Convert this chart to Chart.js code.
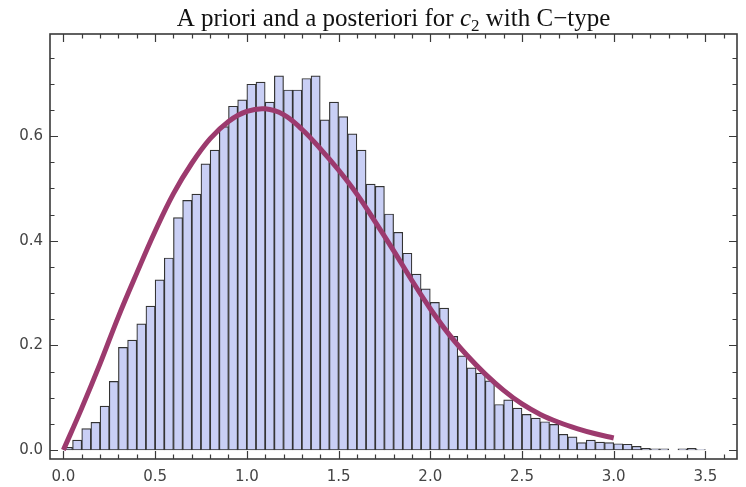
<!DOCTYPE html>
<html>
<head>
<meta charset="utf-8">
<script src="https://cdn.jsdelivr.net/npm/chart.js@4.4.1/dist/chart.umd.min.js"></script>
<style>
  body { margin: 0; background: #fff; }
</style>
</head>
<body>
<canvas id="myChart" width="746" height="487"></canvas>
<script>
// histogram bins (left edge) and heights
const binStart = [
  0.00, 0.05, 0.10, 0.15, 0.20, 0.25, 0.30, 0.35, 0.40, 0.45,
  0.50, 0.55, 0.60, 0.65, 0.70, 0.75, 0.80, 0.85, 0.90, 0.95,
  1.00, 1.05, 1.10, 1.15, 1.20, 1.25, 1.30, 1.35, 1.40, 1.45,
  1.50, 1.55, 1.60, 1.65, 1.70, 1.75, 1.80, 1.85, 1.90, 1.95,
  2.00, 2.05, 2.10, 2.15, 2.20, 2.25, 2.30, 2.35, 2.40, 2.45,
  2.50, 2.55, 2.60, 2.65, 2.70, 2.75, 2.80, 2.85, 2.90, 2.95,
  3.00, 3.05, 3.10, 3.15, 3.20, 3.25, 3.30, 3.35, 3.40, 3.45
];
const binHeight = [
  0.005, 0.019, 0.041, 0.053, 0.084, 0.131, 0.196, 0.210, 0.241, 0.275,
  0.325, 0.367, 0.444, 0.477, 0.489, 0.547, 0.573, 0.618, 0.657, 0.669,
  0.699, 0.703, 0.665, 0.715, 0.688, 0.688, 0.710, 0.715, 0.631, 0.665,
  0.637, 0.604, 0.573, 0.508, 0.504, 0.451, 0.416, 0.376, 0.336, 0.308,
  0.282, 0.271, 0.217, 0.180, 0.157, 0.147, 0.132, 0.087, 0.096, 0.080,
  0.068, 0.061, 0.054, 0.049, 0.030, 0.025, 0.014, 0.019, 0.015, 0.014,
  0.012, 0.011, 0.007, 0.003, 0.002, 0.002, null, 0.002, 0.003, 0.001
];
const binWidth = 0.05;

// a priori density curve
const curveX = [0.0, 0.1, 0.2, 0.3, 0.4, 0.5, 0.6, 0.7, 0.8, 0.9, 1.0,
  1.1, 1.2, 1.3, 1.4, 1.5, 1.6, 1.7, 1.8, 1.9, 2.0,
  2.1, 2.2, 2.3, 2.4, 2.5, 2.6, 2.7, 2.8, 2.9, 3.0];
const curveY = [0.000, 0.080, 0.165, 0.255, 0.338, 0.418, 0.490, 0.548, 0.595, 0.628, 0.647,
  0.652, 0.641, 0.613, 0.576, 0.535, 0.489, 0.436, 0.381, 0.324, 0.270,
  0.222, 0.181, 0.145, 0.114, 0.088, 0.068, 0.053, 0.041, 0.031, 0.023];

const xTickLabels = [0.0, 0.5, 1.0, 1.5, 2.0, 2.5, 3.0, 3.5];
const yTickLabels = [0.0, 0.2, 0.4, 0.6];

const tickFont = { family: 'DejaVu Sans', size: 15 };
const tickColor = '#444';

// frame with inward ticks on all four sides
const framePlugin = {
  id: 'frame',
  afterDraw(chart) {
    const c = chart.ctx;
    const a = chart.chartArea;
    const xs = chart.scales.x, ys = chart.scales.y;
    c.save();
    c.strokeStyle = '#3a3a3a';
    c.lineWidth = 1.2;
    c.beginPath();
    for (let i = 0; i <= 36; i++) {
      const v = i / 10;
      const px = Math.round(xs.getPixelForValue(v)) + 0.5;
      const len = (i % 5 === 0) ? 8 : 4.5;
      c.moveTo(px, a.bottom); c.lineTo(px, a.bottom - len);
      c.moveTo(px, a.top); c.lineTo(px, a.top + len);
    }
    for (let i = 0; i <= 15; i++) {
      const v = i * 0.05;
      const py = Math.round(ys.getPixelForValue(v)) + 0.5;
      const len = (i % 4 === 0) ? 8 : 4.5;
      c.moveTo(a.left, py); c.lineTo(a.left + len, py);
      c.moveTo(a.right, py); c.lineTo(a.right - len, py);
    }
    c.stroke();
    c.lineWidth = 1.6;
    c.strokeRect(a.left, a.top, a.right - a.left, a.bottom - a.top);
    c.restore();
  }
};

// title with italic c and subscript 2
const titlePlugin = {
  id: 'mtitle',
  afterDraw(chart) {
    const c = chart.ctx;
    const a = chart.chartArea;
    const parts = [
      { t: 'A priori and a posteriori for ', f: '25px "Liberation Serif"', dy: 0 },
      { t: 'c', f: 'italic 25px "Liberation Serif"', dy: 0 },
      { t: '2', f: '17px "Liberation Serif"', dy: 5 },
      { t: ' with C\u2212type', f: '25px "Liberation Serif"', dy: 0 }
    ];
    c.save();
    let w = 0;
    parts.forEach(p => { c.font = p.f; p.w = c.measureText(p.t).width; w += p.w; });
    let x = (a.left + a.right) / 2 - w / 2;
    const base = 26;
    c.fillStyle = '#111';
    c.textBaseline = 'alphabetic';
    parts.forEach(p => { c.font = p.f; c.fillText(p.t, x, base + p.dy); x += p.w; });
    c.restore();
  }
};

const ctx = document.getElementById('myChart').getContext('2d');
const myChart = new Chart(ctx, {
  type: 'bar',
  data: {
    datasets: [
      {
        type: 'line',
        label: 'A priori',
        data: curveX.map((x, i) => ({ x: x, y: curveY[i] })),
        borderColor: '#9c3a6e',
        borderWidth: 5,
        pointRadius: 0,
        tension: 0.4,
        fill: false,
        order: 0
      },
      {
        type: 'bar',
        label: 'A posteriori',
        data: binStart.map((s, i) => ({ x: s + binWidth / 2, y: binHeight[i] })),
        backgroundColor: '#c9cff5',
        borderColor: '#333',
        borderWidth: 1.2,
        borderSkipped: false,
        barPercentage: 1,
        categoryPercentage: 1,
        order: 1
      }
    ]
  },
  options: {
    responsive: false,
    animation: false,
    layout: { padding: { top: 34, right: 9, left: 0, bottom: 0 } },
    plugins: { legend: { display: false }, tooltip: { enabled: false } },
    scales: {
      x: {
        type: 'linear',
        offset: false,
        min: -0.073,
        max: 3.672,
        grid: { display: false, drawTicks: false },
        border: { display: false },
        afterBuildTicks: s => { s.ticks = xTickLabels.map(v => ({ value: v })); },
        afterFit: s => { s.height = 28; },
        ticks: {
          padding: 9,
          font: tickFont,
          color: tickColor,
          maxRotation: 0,
          autoSkip: false,
          callback: v => v.toFixed(1)
        }
      },
      y: {
        type: 'linear',
        min: -0.0172,
        max: 0.795,
        grid: { display: false, drawTicks: false },
        border: { display: false },
        afterBuildTicks: s => { s.ticks = yTickLabels.map(v => ({ value: v })); },
        afterFit: s => { s.width = 50; },
        ticks: {
          padding: 7,
          font: tickFont,
          color: tickColor,
          callback: v => v.toFixed(1)
        }
      }
    }
  },
  plugins: [framePlugin, titlePlugin]
});
</script>
</body>
</html>
